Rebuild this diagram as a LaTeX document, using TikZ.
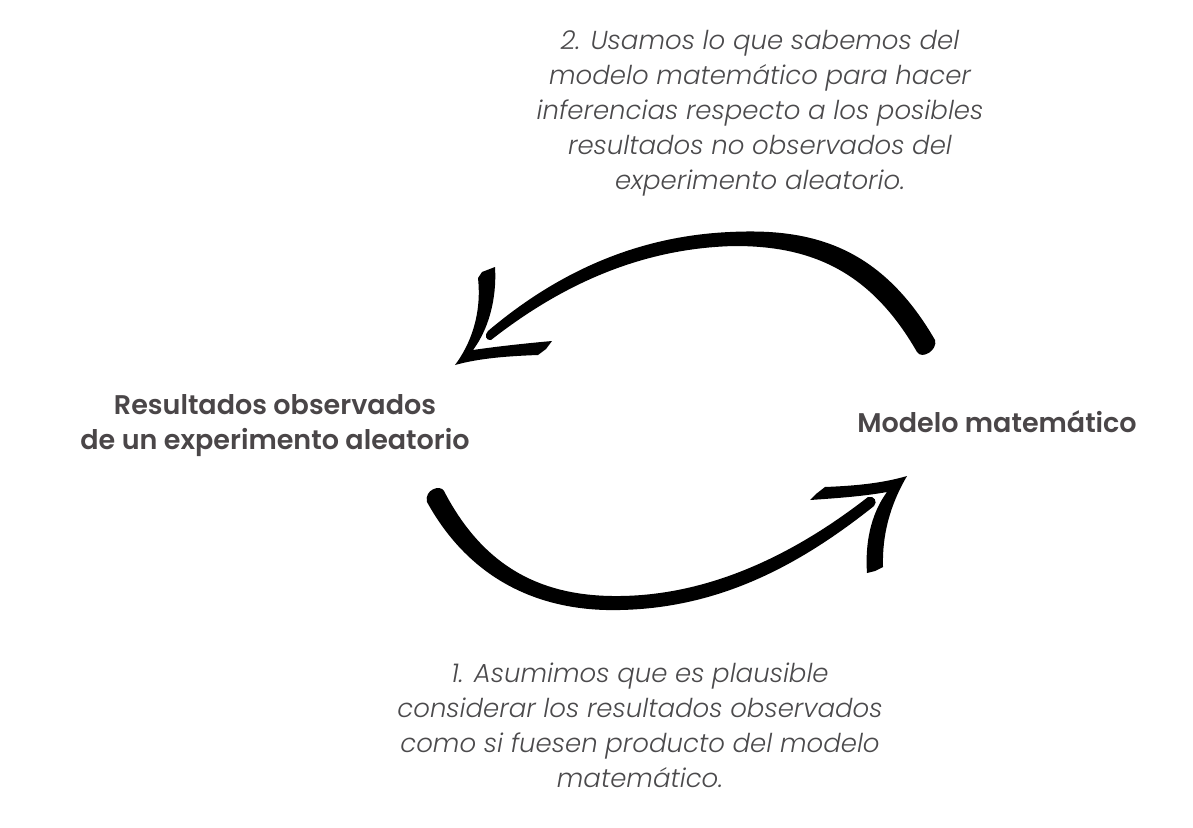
\documentclass[tikz,border=0pt]{standalone}
\usepackage{fontspec}
\setmainfont{Poppins}[BoldFont={Poppins SemiBold}, ItalicFont={Poppins Light Italic}]
\usepackage{tikz}

\definecolor{textogris}{HTML}{4B4A4C}
\definecolor{titulogris}{HTML}{4A4648}

\begin{document}
\begin{tikzpicture}
      [x=1pt, y=-1pt,
      etiqueta/.style={align=center, text=titulogris, inner sep=0pt,
        font=\fontsize{27}{35}\selectfont\bfseries},
      nota/.style={align=center, text=textogris, inner sep=0pt,
        font=\fontsize{26}{35}\selectfont\itshape},
      pincel/.style={fill=black, draw=none}]
      \useasboundingbox (0,0) rectangle (1193,827);
      % textos
      \node (obs) at (275, 426) [etiqueta] {Resultados observados\\de un experimento aleatorio};
      \node (modelo) at (997, 422) [etiqueta] {Modelo matemático};
      \node (paso2) at (760, 113) [nota] {2. Usamos lo que sabemos del\\modelo matemático para hacer\\inferencias respecto a los posibles\\resultados no observados del\\experimento aleatorio.};
      \node (paso1) at (640, 725) [nota] {1. Asumimos que es plausible\\considerar los resultados observados\\como si fuesen producto del modelo\\matemático.};
      % flecha de arriba: modelo -> resultados
      \fill[pincel] (935,340) .. controls (880,245) and (810,228) .. (730,232)
        .. controls (640,236) and (560,270) .. (488,331)
        .. controls (484,335) and (486,341) .. (491,340)
        .. controls (565,282) and (645,248) .. (735,246)
        .. controls (810,246) and (870,270) .. (917,352)
        .. controls (922,360) and (938,350) .. (935,340) -- cycle;
      \fill[pincel] (455,365) .. controls (470,345) and (482,315) .. (478,278)
        -- (482,272) -- (495,267)
        .. controls (497,300) and (488,330) .. (473,350)
        .. controls (500,346) and (530,343) .. (552,341)
        -- (546,349) -- (538,355)
        .. controls (510,356) and (480,358) .. (455,365) -- cycle;
      % flecha de abajo: resultados -> modelo
      \fill[pincel] (427,502) .. controls (470,580) and (540,612) .. (620,610)
        .. controls (720,608) and (800,565) .. (874,506)
        .. controls (878,502) and (874,495) .. (868,497)
        .. controls (800,550) and (715,595) .. (620,596)
        .. controls (545,597) and (485,570) .. (444,491)
        .. controls (440,484) and (424,490) .. (427,502) -- cycle;
      \fill[pincel] (907,476) .. controls (880,484) and (850,486) .. (825,487)
        -- (816,494) -- (810,500)
        .. controls (840,498) and (865,496) .. (887,492)
        .. controls (870,515) and (865,545) .. (867,573)
        -- (875,571) -- (883,567)
        .. controls (882,535) and (890,505) .. (907,476) -- cycle;
    \end{tikzpicture}
\end{document}
